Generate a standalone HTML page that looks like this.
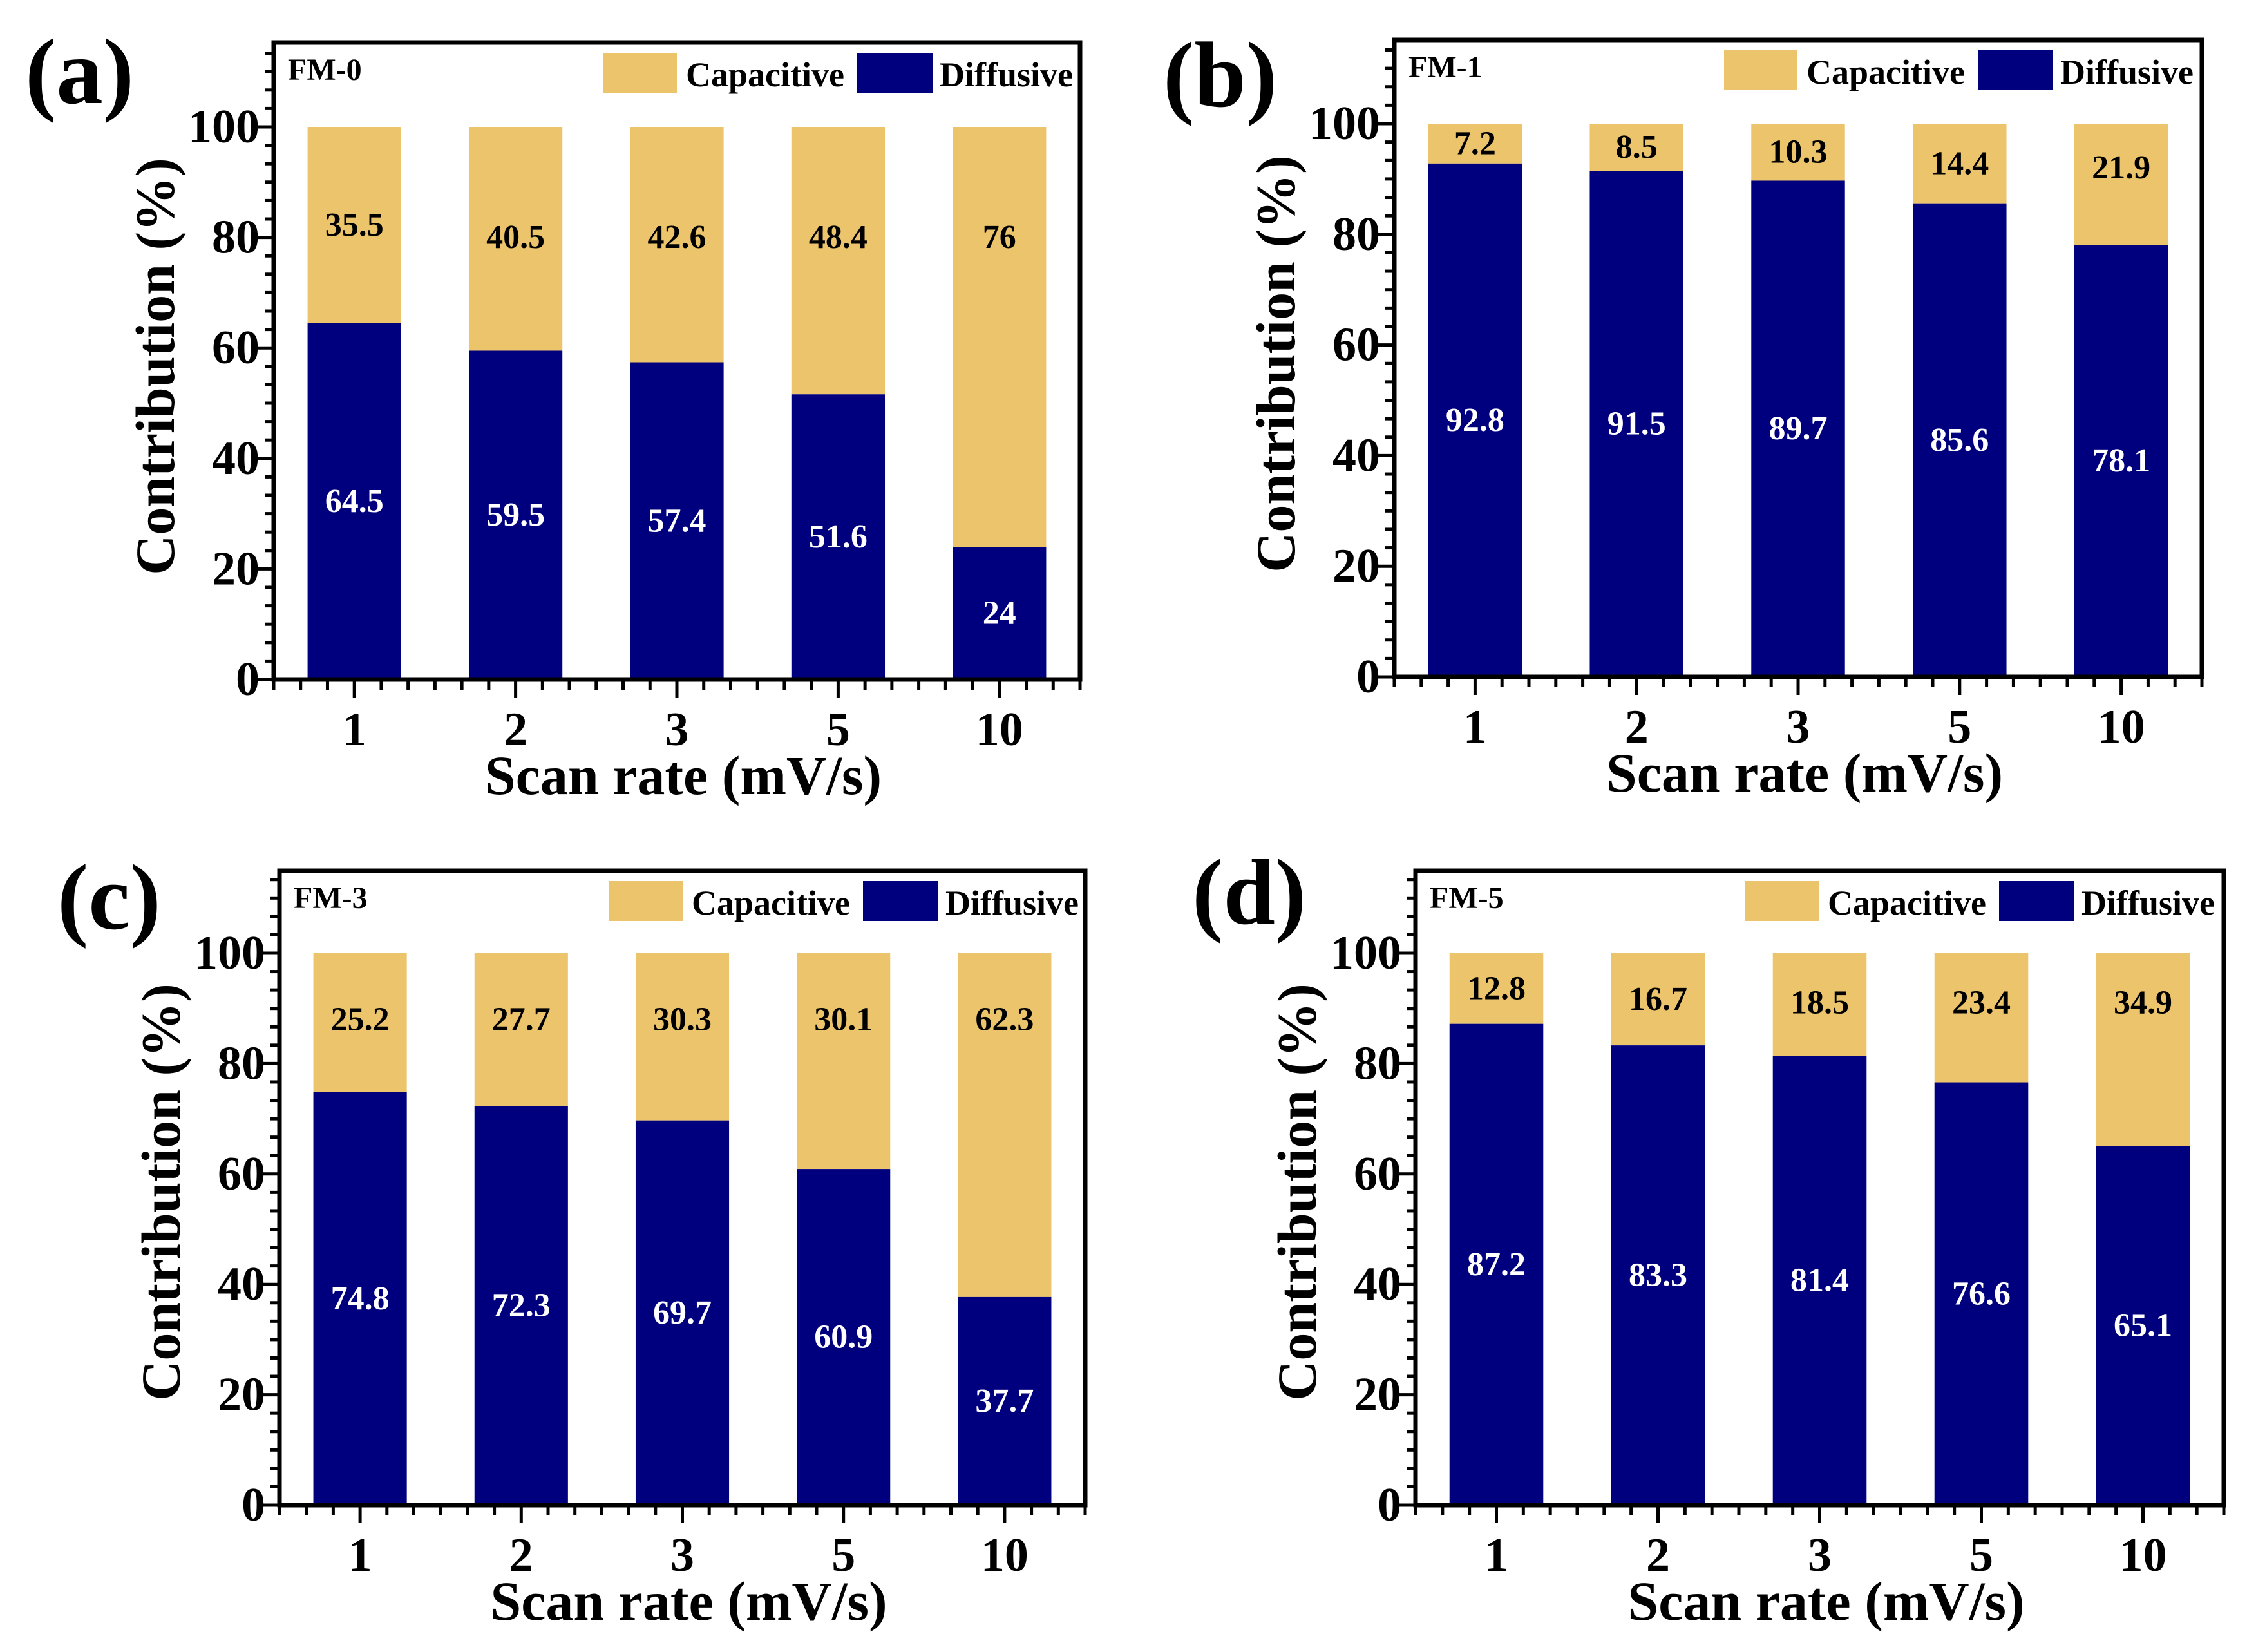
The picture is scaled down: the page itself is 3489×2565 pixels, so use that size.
<!DOCTYPE html>
<html><head><meta charset="utf-8">
<style>
html,body{margin:0;padding:0;background:#fff;}
svg{display:block;}
svg text{font-family:"Liberation Serif","DejaVu Serif",serif;font-weight:bold;}
</style></head>
<body>
<svg id="fig" width="3489" height="2565" viewBox="0 0 3489 2565" xmlns="http://www.w3.org/2000/svg" font-family="Liberation Serif, serif" font-weight="bold"></svg>
<script>
const categories = ["1", "2", "3", "5", "10"];
const yTickLabels = ["0", "20", "40", "60", "80", "100"];
const yTickValues = [0, 20, 40, 60, 80, 100];
const diffA = [64.5, 59.5, 57.4, 51.6, 24];
const capA = [35.5, 40.5, 42.6, 48.4, 76];
const diffB = [92.8, 91.5, 89.7, 85.6, 78.1];
const capB = [7.2, 8.5, 10.3, 14.4, 21.9];
const diffC = [74.8, 72.3, 69.7, 60.9, 37.7];
const capC = [25.2, 27.7, 30.3, 30.1, 62.3];
const diffD = [87.2, 83.3, 81.4, 76.6, 65.1];
const capD = [12.8, 16.7, 18.5, 23.4, 34.9];

const NS = "http://www.w3.org/2000/svg";
const svg = document.getElementById("fig");
const CAP = "#ECC46B", DIF = "#00007F";
const FONT = '"Liberation Serif", "DejaVu Serif", serif';

function mk(tag, attrs, parent) {
  const e = document.createElementNS(NS, tag);
  for (const k in attrs) e.setAttribute(k, attrs[k]);
  if (tag === "text") { e.setAttribute("font-family", FONT); e.setAttribute("font-weight", "bold"); }
  parent.appendChild(e);
  return e;
}

const panels = [
  {id:"a", name:"FM-0", L:425, R:1677, T:66, B:1055, y100:197, lx:39, ly:160, diff:diffA, cap:capA, maxOff:20},
  {id:"b", name:"FM-1", L:2165, R:3419, T:62, B:1051, y100:192, lx:1806, ly:165, diff:diffB, cap:capB, maxOff:8},
  {id:"c", name:"FM-3", L:434, R:1685, T:1352, B:2337, y100:1480, lx:89, ly:1442, diff:diffC, cap:capC, maxOff:12},
  {id:"d", name:"FM-5", L:2198, R:3453, T:1352, B:2337, y100:1480, lx:1851, ly:1434, diff:diffD, cap:capD, maxOff:9}
];

panels.forEach(p => {
  const g = mk("g", {}, svg);
  
  
  const W = p.R - p.L;
  const band = W / categories.length;
  const yS = v => p.B - v * (p.B - p.y100) / 100;
  const xS = i => p.L + (i + 0.5) * band;
  const bw = band * 0.58;

  categories.forEach((c, i) => {
    const d = p.diff[i], cp = p.cap[i];
    const top = Math.max(100, d + cp) === 100 ? 100 : d + cp;
    const r2 = mk("rect", {x: xS(i) - bw/2, y: yS(top), width: bw, height: yS(d) - yS(top), fill: CAP}, g);
    
    
    const r1 = mk("rect", {x: xS(i) - bw/2, y: yS(d), width: bw, height: yS(0) - yS(d), fill: DIF}, g);
    
    
    const t1 = mk("text", {x: xS(i), y: yS(d/2), fill: "#fff", "font-size": 52, "text-anchor": "middle", "dominant-baseline": "central"}, g);
    t1.textContent = String(d);
    
    
    const seg = top - d;
    const ly = top - Math.min(seg / 2, p.maxOff);
    const t2 = mk("text", {x: xS(i), y: yS(ly), fill: "#000", "font-size": 52, "text-anchor": "middle", "dominant-baseline": "central"}, g);
    t2.textContent = String(cp);
    
    
  });

  const fr = mk("rect", {x: p.L, y: p.T, width: W, height: p.B - p.T, fill: "none", stroke: "#000", "stroke-width": 7}, g);
  
  

  for (let k = 0; k <= categories.length * 6; k++) {
    const x = p.L + k * band / 6;
    const major = (k % 6) === 3;
    const tk = mk("line", {x1: x, x2: x, y1: p.B, y2: p.B + (major ? 28 : 16), stroke: "#000", "stroke-width": 5}, g);
    
    
  }
  categories.forEach((c, i) => {
    const t = mk("text", {x: xS(i), y: p.B + 102, "font-size": 74, "text-anchor": "middle"}, g);
    t.textContent = c;
    
    
  });

  const yMaxVal = 100 * (p.B - p.T) / (p.B - p.y100);
  for (let v = 0; v <= yMaxVal + 0.01; v += 20 / 6) {
    const major = Math.abs(v / 20 - Math.round(v / 20)) < 0.01;
    const y = yS(v);
    const tk = mk("line", {x1: p.L, x2: p.L - (major ? 26 : 14), y1: y, y2: y, stroke: "#000", "stroke-width": 5}, g);
    
    
  }
  yTickValues.forEach((v, i) => {
    const t = mk("text", {x: p.L - 22, y: yS(v), "font-size": 74, "text-anchor": "end", "dominant-baseline": "central"}, g);
    t.textContent = yTickLabels[i];
    
    
  });

  const xt = mk("text", {x: p.L + W/2 + 10, y: p.B + 178, "font-size": 86, "text-anchor": "middle"}, g);
  xt.textContent = "Scan rate (mV/s)";
  
  
  const cx = p.L - 184, cy = p.B - 486;
  const yt = mk("text", {x: cx, y: cy, "font-size": 86, "text-anchor": "middle", "dominant-baseline": "central", transform: "rotate(-90 " + cx + " " + cy + ")"}, g);
  yt.textContent = "Contribution (%)";
  
  

  const pl = mk("text", {x: p.lx, y: p.ly, "font-size": 145}, g);
  pl.textContent = "(" + p.id + ")";
  
  

  const sn = mk("text", {x: p.L + 22, y: p.T + 58, "font-size": 48}, g);
  sn.textContent = p.name;
  
  

  const lc = mk("rect", {x: p.L + 512, y: p.T + 16, width: 114, height: 62, fill: CAP}, g);
  
  
  const lct = mk("text", {x: p.L + 640, y: p.T + 68, "font-size": 54}, g);
  lct.textContent = "Capacitive";
  
  
  const ld = mk("rect", {x: p.L + 906, y: p.T + 16, width: 117, height: 62, fill: DIF}, g);
  
  
  const ldt = mk("text", {x: p.L + 1034, y: p.T + 68, "font-size": 54}, g);
  ldt.textContent = "Diffusive";
  
  
});
</script>
</body></html>
